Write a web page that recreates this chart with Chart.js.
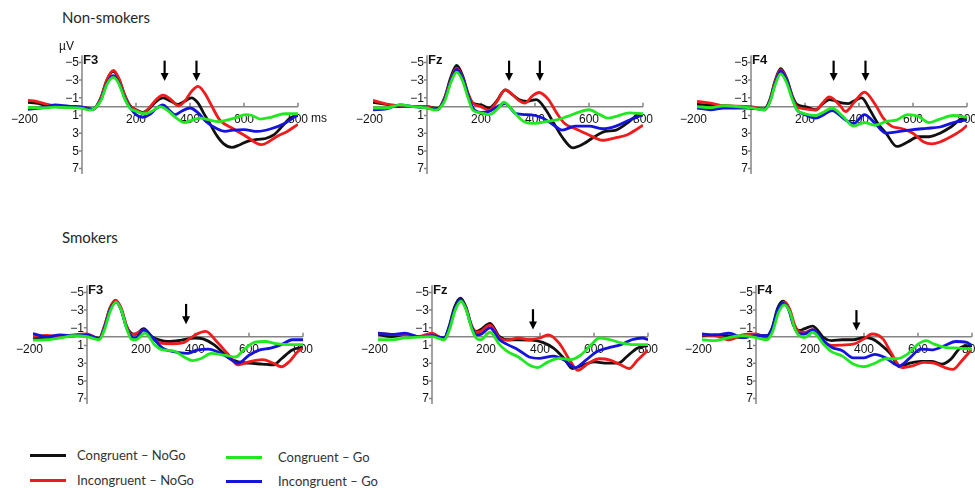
<!DOCTYPE html>
<html>
<head>
<meta charset="utf-8">
<script src="https://cdn.jsdelivr.net/npm/chart.js@4.4.1/dist/chart.umd.min.js"></script>
<style>
  html, body { margin: 0; padding: 0; background: #fff; }
  body { width: 975px; height: 488px; position: relative; overflow: hidden; font-family: Lato, "Liberation Sans", sans-serif; }
  canvas { position: absolute; }
  .txt { position: absolute; white-space: nowrap; color: #262626; }
  .title { font-size: 15px; line-height: 20px; }
  .leg { font-size: 13px; line-height: 16px; color: #333; }
  .sw { position: absolute; width: 36px; height: 3px; }
</style>
</head>
<body>
<div class="txt title" style="left:62px;top:7px">Non-smokers</div>
<div class="txt title" style="left:62px;top:227px">Smokers</div>
<div id="legend"></div>

<script>
// ---- axes / labels ----
const xTicks = [-200, 200, 400, 600, 800];
const yTicks = [-5, -3, -1, 1, 3, 5, 7];
const sites = ['F3', 'Fz', 'F4'];
const conditions = ['Congruent – NoGo', 'Incongruent – NoGo', 'Congruent – Go', 'Incongruent – Go'];
const condColors = ['#111111', '#ee1c1c', '#22e822', '#1414dc'];

// ---- Non-smokers, [ms, µV] ----
const nsF3Black = [[-200,-0.5],[-170,-0.4],[-140,-0.2],[-100,0],[-50,0.05],[0,0.1],[40,0.3],[70,-1.0],[92,-3.0],[116,-4.0],[138,-3.0],[158,-1.3],[178,-0.1],[200,0.35],[225,0.65],[250,0.2],[275,-0.6],[300,-1.0],[330,-0.6],[355,-0.25],[380,-0.6],[405,-1.0],[430,-0.4],[450,0.7],[475,2.0],[500,3.3],[525,4.2],[555,4.6],[585,4.3],[615,3.9],[650,3.7],[680,3.6],[710,3.2],[745,2.1],[770,1.3],[800,1.0]];
const nsF3Red = [[-200,-0.7],[-170,-0.6],[-140,-0.35],[-100,-0.1],[-50,0],[0,0.05],[40,0.3],[70,-1.0],[92,-3.0],[116,-4.1],[138,-3.1],[158,-1.3],[178,-0.1],[200,0.4],[225,0.7],[250,0.1],[275,-0.8],[300,-1.3],[330,-0.8],[357,-0.1],[380,-0.6],[405,-1.7],[430,-2.3],[455,-1.5],[475,-0.4],[510,1.5],[560,2.5],[610,3.4],[645,4.1],[665,4.3],[690,4.0],[720,3.4],[760,2.8],[800,2.0]];
const nsF3Green = [[-200,0.1],[-150,0.15],[-100,0.05],[-50,0.1],[0,0.2],[30,0.4],[70,-0.7],[92,-2.5],[116,-3.3],[138,-2.5],[158,-0.9],[178,0.2],[200,0.5],[230,0.8],[260,0.5],[290,0],[320,0.5],[350,1.3],[380,1.8],[410,1.5],[440,1.3],[470,1.5],[505,1.7],[540,1.5],[575,1.2],[605,0.9],[630,1.0],[660,1.4],[700,1.2],[750,0.8],[800,0.8]];
const nsF3Blue = [[-200,0.3],[-150,0.15],[-100,-0.2],[-50,-0.05],[0,0.05],[40,0.3],[70,-0.8],[92,-2.6],[116,-3.5],[138,-2.6],[158,-1.0],[178,0.1],[200,0.9],[225,1.2],[250,0.9],[275,0.2],[300,-0.2],[320,0.3],[345,0.9],[370,0.5],[400,0.15],[430,0.7],[460,1.7],[500,2.5],[530,2.8],[560,2.65],[600,2.6],[650,2.8],[700,2.5],[750,1.9],[800,0.9]];

const nsFzBlack = [[-200,-0.5],[-150,-0.25],[-100,0],[-50,0],[0,0],[40,0.2],[65,-1.0],[88,-3.3],[110,-4.65],[132,-3.5],[152,-1.5],[170,-0.4],[200,-0.2],[230,0.15],[255,-0.5],[290,-1.9],[315,-1.4],[340,-0.8],[370,-0.6],[405,-0.8],[440,0.35],[470,1.9],[500,3.4],[540,4.65],[580,4.2],[620,3.4],[660,2.8],[700,2.65],[740,1.9],[780,1.0],[800,0.95]];
const nsFzRed = [[-200,-0.7],[-150,-0.3],[-100,-0.1],[-50,0],[0,0],[40,0.3],[65,-0.9],[88,-3.0],[110,-4.35],[132,-3.3],[152,-1.4],[170,-0.4],[200,0],[230,0.4],[255,-0.4],[290,-1.9],[315,-1.4],[340,-0.7],[362,-0.4],[390,-1.2],[415,-1.6],[450,-0.8],[480,0.7],[510,1.9],[550,2.5],[600,3.2],[650,3.8],[700,3.5],[740,3.2],[780,2.5],[800,2.1]];
const nsFzGreen = [[-200,0.15],[-150,0.15],[-100,-0.2],[-50,0],[0,0.15],[30,0.4],[65,-0.6],[88,-2.7],[110,-3.9],[132,-2.9],[152,-1.0],[170,0.4],[200,0.7],[230,0.9],[260,0.3],[285,-0.5],[320,0.55],[360,1.7],[400,1.9],[440,1.7],[480,1.5],[520,1.1],[560,0.65],[600,0.35],[640,0.9],[670,1.3],[700,1.1],[750,0.7],[800,0.8]];
const nsFzBlue = [[-200,0.35],[-150,0.25],[-100,-0.2],[-50,0],[0,0.15],[40,0.3],[65,-0.8],[88,-2.9],[110,-4.2],[132,-3.2],[152,-1.3],[170,0.15],[200,0.65],[230,0.55],[260,0],[290,-0.35],[330,0.8],[370,0.9],[400,1.0],[430,1.3],[470,2.1],[500,2.65],[550,2.2],[600,2.2],[650,2.5],[700,2.2],[750,1.5],[800,0.9]];

const nsF4Black = [[-200,-0.25],[-100,-0.1],[0,0.15],[50,0.25],[70,-0.8],[90,-3.0],[110,-4.3],[132,-3.2],[152,-1.3],[170,-0.25],[200,0],[240,0.35],[265,-0.3],[290,-0.8],[340,-0.4],[360,-0.35],[385,-0.7],[410,-1.0],[440,0.35],[470,1.9],[500,3.0],[540,4.5],[580,4.0],[620,3.4],[660,3.4],[700,3.0],[740,2.3],[780,1.4],[800,1.35]];
const nsF4Red = [[-200,-0.6],[-150,-0.4],[-100,-0.1],[0,0],[50,0.35],[70,-0.7],[90,-2.9],[110,-4.15],[132,-3.1],[152,-1.2],[170,0],[200,0.25],[240,0.4],[265,-0.4],[290,-1.1],[330,-0.1],[350,0.55],[380,-0.4],[420,-1.65],[460,-0.25],[490,1.3],[520,2.2],[560,2.5],[600,3.0],[640,4.0],[670,4.2],[700,4.0],[740,3.4],[780,2.65],[800,2.1]];
const nsF4Green = [[-200,0],[-150,0.1],[-100,-0.1],[0,0.15],[50,0.35],[70,-0.5],[90,-2.5],[110,-3.7],[132,-2.7],[152,-0.9],[170,0.35],[200,0.8],[240,1.0],[270,0.6],[300,0.15],[340,1.1],[380,2.2],[420,1.8],[460,2.1],[500,1.7],[540,1.5],[580,0.9],[620,1.1],[660,1.8],[700,1.4],[750,1.0],[800,1.2]];
const nsF4Blue = [[-200,0.15],[-150,0.35],[-100,0.15],[0,0.15],[50,0.35],[70,-0.6],[90,-2.7],[110,-4.0],[132,-3.0],[152,-1.1],[170,0.35],[200,0.9],[240,1.3],[270,0.9],[300,0.45],[350,1.5],[380,1.9],[420,0.9],[460,1.9],[500,3.0],[540,2.85],[600,2.6],[650,2.45],[700,2.3],[750,1.8],[800,1.5]];

// ---- Smokers, [ms, µV] ----
const sF3Black = [[-200,0.15],[-150,0.15],[-100,0],[-50,-0.1],[0,-0.2],[45,0.2],[65,-1.2],[85,-3.2],[105,-4.1],[125,-3.2],[145,-1.2],[163,-0.4],[180,-0.25],[210,-0.9],[240,0],[270,0.4],[300,0.55],[350,0.4],[400,0.15],[430,0.25],[470,0.9],[500,1.7],[530,2.5],[560,2.85],[600,3.0],[650,3.1],[690,3.2],[720,2.5],[760,1.5],[800,1.2]];
const sF3Red = [[-200,0],[-150,-0.15],[-100,0],[-50,-0.2],[0,-0.3],[45,0.25],[65,-1.2],[85,-3.2],[107,-4.1],[127,-3.2],[147,-1.2],[165,-0.25],[180,-0.35],[210,-0.7],[240,0.15],[270,0.7],[320,0.8],[360,0.65],[400,-0.2],[440,-0.6],[480,0.55],[520,1.9],[560,3.2],[600,2.85],[650,2.6],[690,3.0],[720,3.4],[750,2.8],[780,1.7],[800,1.3]];
const sF3Green = [[-200,0.4],[-150,0.35],[-100,0.15],[-50,-0.1],[0,0],[45,0.35],[65,-0.8],[85,-2.8],[107,-3.9],[127,-3.0],[147,-0.9],[165,0.3],[180,0.35],[215,-0.4],[250,0.9],[280,1.5],[320,1.6],[360,2.3],[390,2.7],[420,2.5],[460,1.9],[510,2.1],[550,2.3],[580,1.5],[620,0.65],[660,0.55],[700,0.8],[750,0.9],[800,0.9]];
const sF3Blue = [[-200,-0.35],[-150,0],[-100,-0.2],[-50,-0.1],[0,-0.2],[45,0.25],[65,-1.0],[85,-3.0],[107,-3.9],[127,-3.0],[147,-1.0],[165,0],[180,0.15],[210,-0.8],[250,0.35],[280,1.3],[320,1.7],[370,1.9],[410,1.5],[450,1.4],[490,1.8],[530,2.5],[560,3.0],[600,2.1],[640,1.5],[680,1.3],[720,0.9],[760,0.35],[800,0.35]];

const sFzBlack = [[-200,-0.25],[-150,0],[-100,-0.25],[-50,0],[0,-0.1],[45,0.15],[62,-1.0],[83,-3.3],[105,-4.35],[125,-3.4],[145,-1.3],[163,-0.6],[180,-0.8],[215,-1.5],[250,0],[280,0.35],[320,0.35],[370,0.4],[410,0.65],[450,1.3],[490,2.5],[520,3.6],[560,3.2],[600,2.85],[650,3.0],[690,3.0],[720,2.3],[760,1.3],[800,1.0]];
const sFzRed = [[-200,-0.4],[-150,-0.25],[-100,-0.25],[-50,0],[0,-0.4],[45,0.35],[65,-1.0],[85,-3.1],[107,-4.1],[127,-3.2],[147,-1.2],[165,-0.5],[180,-0.6],[215,-1.3],[250,0.15],[280,0.4],[320,0.15],[360,0.35],[400,0.15],[430,-0.2],[470,0.7],[510,2.65],[540,3.8],[580,3.0],[620,2.5],[660,2.65],[700,3.2],[730,3.6],[760,2.7],[800,1.5]];
const sFzGreen = [[-200,0.35],[-150,0.35],[-100,0.15],[-50,0.05],[0,0],[45,0.35],[65,-0.8],[85,-2.9],[107,-4.0],[127,-3.0],[147,-0.9],[165,0.2],[180,0.35],[215,-0.5],[250,0.9],[280,1.7],[320,2.3],[360,3.2],[390,3.5],[430,2.85],[470,2.45],[510,2.6],[550,2.1],[590,0.9],[620,0.15],[660,0.35],[700,0.7],[750,0.9],[800,0.9]];
const sFzBlue = [[-200,-0.4],[-150,-0.25],[-100,-0.4],[-50,0],[0,-0.1],[45,0.15],[63,-1.0],[84,-3.1],[105,-4.2],[126,-3.2],[146,-1.2],[165,-0.2],[180,-0.25],[215,-1.0],[250,0.35],[280,0.9],[320,1.5],[360,2.3],[400,2.45],[450,2.2],[490,2.65],[530,3.5],[570,2.65],[610,1.7],[650,1.3],[700,0.9],[740,0.35],[780,0.15],[800,0.35]];

const sF4Black = [[-200,-0.1],[-150,-0.2],[-100,-0.1],[-50,0.1],[0,-0.1],[40,-0.1],[60,-1.0],[80,-3.2],[100,-4.0],[120,-3.3],[140,-1.3],[160,-0.7],[180,-0.9],[210,-1.2],[250,0.1],[280,0.45],[320,0.35],[360,0.35],[400,0.1],[430,0.25],[460,0.85],[500,2.0],[530,3.4],[570,3.0],[610,2.8],[650,2.8],[690,3.1],[720,2.6],[760,1.2],[800,1.0]];
const sF4Red = [[-200,-0.2],[-150,-0.1],[-100,0.35],[-50,-0.2],[0,-0.3],[40,0.1],[62,-0.9],[83,-3.0],[105,-3.9],[125,-3.1],[145,-1.2],[165,-0.5],[180,-0.5],[210,-0.8],[250,0.65],[280,1.0],[320,0.95],[360,0.85],[400,0.25],[430,-0.3],[470,0.25],[500,1.8],[540,3.5],[580,3.3],[620,2.9],[660,3.0],[700,3.5],[730,3.7],[760,2.8],[800,1.4]];
const sF4Green = [[-200,0.35],[-150,0.45],[-100,0.1],[-50,-0.1],[0,0.1],[40,0.35],[62,-0.6],[83,-2.7],[105,-3.6],[125,-2.8],[145,-0.8],[165,0],[180,0.1],[210,-0.5],[250,0.85],[280,1.7],[320,2.2],[360,3.1],[400,3.4],[440,3.0],[480,2.5],[520,2.5],[560,2.0],[600,0.85],[630,0.45],[660,0.85],[700,1.2],[750,1.3],[800,1.4]];
const sF4Blue = [[-200,-0.3],[-150,-0.2],[-100,-0.4],[-50,0.1],[0,-0.1],[40,-0.1],[60,-0.9],[80,-3.0],[100,-3.8],[120,-3.1],[140,-1.2],[160,-0.3],[180,-0.3],[210,-0.8],[250,0.45],[280,1.2],[320,1.6],[360,2.4],[400,2.4],[440,2.0],[480,2.4],[530,3.3],[570,2.4],[610,1.4],[650,1.5],[700,1.0],[740,0.55],[780,0.65],[800,1.0]];

// arrows: [ms, top µV, tip µV]
const nsF3Arrows = [[306,-5.2,-2.9],[424,-5.2,-2.9]];
const nsFzArrows = [[304,-5.2,-2.9],[418,-5.2,-2.9]];
const nsF4Arrows = [[306,-5.2,-2.9],[424,-5.2,-2.9]];
const sF3Arrows = [[367,-3.7,-1.4]];
const sFzArrows = [[374,-3.1,-0.8]];
const sF4Arrows = [[372,-3.0,-0.7]];

const panels = [
  { site: sites[0], left: -12, top: 33, series: [nsF3Black, nsF3Red, nsF3Green, nsF3Blue], arrows: nsF3Arrows, units: true },
  { site: sites[1], left: 333, top: 33, series: [nsFzBlack, nsFzRed, nsFzGreen, nsFzBlue], arrows: nsFzArrows },
  { site: sites[2], left: 657, top: 33, series: [nsF4Black, nsF4Red, nsF4Green, nsF4Blue], arrows: nsF4Arrows },
  { site: sites[0], left: -7, top: 263, series: [sF3Black, sF3Red, sF3Green, sF3Blue], arrows: sF3Arrows },
  { site: sites[1], left: 338, top: 263, series: [sFzBlack, sFzRed, sFzGreen, sFzBlue], arrows: sFzArrows },
  { site: sites[2], left: 662, top: 263, series: [sF4Black, sF4Red, sF4Green, sF4Blue], arrows: sF4Arrows }
];

// black drawn at the bottom, green on top
const drawOrder = [4, 3, 1, 2];
const tickFont = '12px "Liberation Sans", Arial, sans-serif';

function erpPlugin(panel) {
  return {
    id: 'erpAxes',
    beforeDatasetsDraw(chart) {
      const { ctx, scales: { x, y } } = chart;
      const x0 = x.getPixelForValue(0);
      const y0 = y.getPixelForValue(0);
      ctx.save();
      ctx.strokeStyle = '#858585';
      ctx.lineWidth = 1.5;
      ctx.beginPath();
      ctx.moveTo(x.getPixelForValue(-200), y0);
      ctx.lineTo(x.getPixelForValue(800), y0);
      ctx.moveTo(x0, y.getPixelForValue(-5.8));
      ctx.lineTo(x0, y.getPixelForValue(7.6));
      xTicks.forEach(t => {
        if (t <= 0) return;
        const px = x.getPixelForValue(t);
        ctx.moveTo(px, y0);
        ctx.lineTo(px, y0 - 4);
      });
      yTicks.forEach(t => {
        const py = y.getPixelForValue(t);
        ctx.moveTo(x0, py);
        ctx.lineTo(x0 - 3, py);
      });
      ctx.stroke();

      ctx.fillStyle = '#111';
      ctx.font = tickFont;
      ctx.textBaseline = 'middle';
      ctx.textAlign = 'left';
      const minusW = ctx.measureText('\u2212').width;
      xTicks.forEach(t => {
        const digits = String(Math.abs(t));
        const dw = ctx.measureText(digits).width;
        const px = x.getPixelForValue(t) - dw / 2;
        ctx.fillText(digits, px, y0 + 13);
        if (t < 0) ctx.fillText('\u2212', px - minusW, y0 + 13);
      });
      ctx.textAlign = 'right';
      yTicks.forEach(t => {
        const label = t < 0 ? '\u2212' + Math.abs(t) : String(t);
        ctx.fillText(label, x0 - 3, y.getPixelForValue(t) + 0.5);
      });

      ctx.textAlign = 'left';
      ctx.font = 'bold 13px "Liberation Sans", Arial, sans-serif';
      ctx.fillText(panel.site, x0 + 1, y.getPixelForValue(-5.2));
      if (panel.units) {
        ctx.font = tickFont;
        ctx.fillText('\u00b5V', x0 - 23, y.getPixelForValue(-5.5) - 11);
        ctx.fillText('ms', x.getPixelForValue(800) + 13, y0 + 12);
      }
      ctx.restore();
    },
    afterDatasetsDraw(chart) {
      const { ctx, scales: { x, y } } = chart;
      ctx.save();
      ctx.strokeStyle = '#000';
      ctx.fillStyle = '#000';
      ctx.lineWidth = 2.2;
      panel.arrows.forEach(([ms, top, tip]) => {
        const px = x.getPixelForValue(ms);
        const pt = y.getPixelForValue(top);
        const pb = y.getPixelForValue(tip);
        ctx.beginPath();
        ctx.moveTo(px, pt);
        ctx.lineTo(px, pb - 6);
        ctx.stroke();
        ctx.beginPath();
        ctx.moveTo(px - 4, pb - 8);
        ctx.lineTo(px + 4, pb - 8);
        ctx.lineTo(px, pb);
        ctx.closePath();
        ctx.fill();
      });
      ctx.restore();
    }
  };
}

panels.forEach(panel => {
  const canvas = document.createElement('canvas');
  canvas.width = 350;
  canvas.height = 150;
  canvas.style.left = panel.left + 'px';
  canvas.style.top = panel.top + 'px';
  document.body.appendChild(canvas);

  new Chart(canvas, {
    type: 'line',
    data: {
      datasets: panel.series.map((s, i) => ({
        label: conditions[i],
        data: s.map(([ms, uv]) => ({ x: ms, y: uv })),
        borderColor: condColors[i],
        borderWidth: 2.8,
        pointRadius: 0,
        fill: false,
        cubicInterpolationMode: 'monotone',
        order: drawOrder[i]
      }))
    },
    options: {
      responsive: false,
      animation: false,
      devicePixelRatio: 1,
      events: [],
      layout: { padding: { left: 40, right: 40, top: 25, bottom: 10 } },
      scales: {
        x: { type: 'linear', min: -200, max: 800, display: false },
        y: { type: 'linear', min: -5.5, max: 7.5, reverse: true, display: false }
      },
      plugins: { legend: { display: false }, tooltip: { enabled: false } }
    },
    plugins: [erpPlugin(panel)]
  });
});

// legend below the panels
const legendPos = [[30, 455], [30, 480], [226, 457], [226, 481]];
const legend = document.getElementById('legend');
conditions.forEach((c, i) => {
  const [lx, ly] = legendPos[i];
  const sw = document.createElement('div');
  sw.className = 'sw';
  sw.style.left = lx + 'px';
  sw.style.top = (ly - 1) + 'px';
  sw.style.background = condColors[i];
  legend.appendChild(sw);
  const t = document.createElement('div');
  t.className = 'txt leg';
  t.style.left = (lx + 47 + (i > 1 ? 5 : 0)) + 'px';
  t.style.top = (ly - 8) + 'px';
  t.textContent = c;
  legend.appendChild(t);
});
</script>
</body>
</html>
